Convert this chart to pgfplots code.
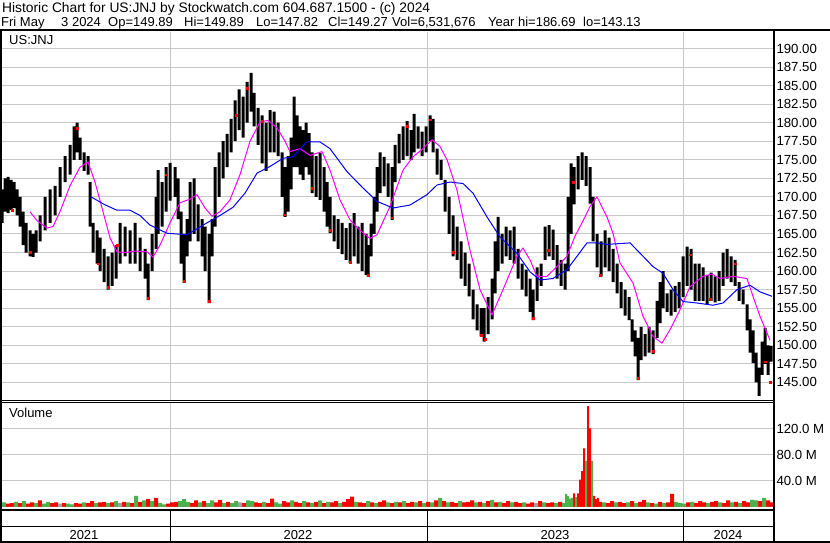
\documentclass[border=0pt]{standalone}
\usepackage{fontspec}
\setmainfont{Liberation Sans}
\usepackage{pgfplots}
\pgfplotsset{compat=1.18}
\usepackage{pgfplotstable}

\definecolor{gridgray}{RGB}{200,200,200}
\definecolor{volred}{RGB}{255,0,0}
\definecolor{volgreen}{RGB}{76,176,76}
\definecolor{volgray}{RGB}{160,160,160}
\definecolor{maline}{RGB}{255,0,255}
\definecolor{longma}{RGB}{0,0,255}

% daily range (x in pixels along the time axis)
\pgfplotstableread{
x lo hi
2 166.5 171
5 168 172.5
8 167.8 172.7
11 168.2 172.3
14 168.5 172
17 167.5 171
20 166 170
23 163.5 168
26 162.5 166.5
30 162 165.5
33 161.9 165
36 162.5 165.5
40 164 167.5
45 165.5 170
50 166.5 171
55 167.5 171.5
60 170 174
65 172 175.5
70 173 177
74 175 179.5
77 176 180
80 175 178
84 173.5 176
88 173 175.5
90 166 172
93 162.5 166.5
97 161 165.5
100 160 164.5
104 158.5 163
108 157.5 162
112 158 162.5
116 159 163.5
120 161 166.5
125 162 166
130 161 165.5
135 161 166.5
140 160 164.5
145 159 163
148 156.1 161
152 160 165
156 163 170
158 165 173.6
162 166 172
166 168 174
170 169.5 174.6
175 170 174
178 167 172.5
181 161 168
184 158.4 165
187 162 167
190 164 172
194 165 172.5
198 164 169
202 162 167
205 160 166
209 155.7 165
212 162 167
215 166 174
219 170 176
223 172.5 177.5
227 174 178.5
231 176 180.5
235 177.5 183
239 179 184.5
243 178 183.5
247 180 185.5
251 181.5 186.7
254 179.5 184
258 177 182
262 174.5 181
266 173.5 180
270 176 181.7
274 176 181.5
278 175.5 180
282 170 176
285 167.3 174
288 168 175.5
291 171 178
294 174 183.5
297 174 181
300 173 179.5
303 172.3 179
306 174 180
309 173 178.6
312 170.5 176
316 170 175.5
320 169.6 175.9
324 168 174
327 166 172
330 165.1 170
334 164 167.5
338 163 167
342 162.3 166.5
346 161.5 165.8
350 161.1 166.5
354 162 167.8
358 161 166
362 160 166.5
366 159.5 165
368 159.3 163.5
371 162 166.4
374 165 170
377 168 174
380 170.5 176
384 171.4 175.4
388 170 174.5
392 166.9 174
395 172 177
399 174.5 178.5
403 175 179.5
407 175.5 180.2
411 175 179
414 176 181.2
418 176.5 179.5
422 175.5 178.8
426 176 179.5
430 177.5 181
433 176 180.5
437 173 176.5
441 172.3 175
445 168 172.3
449 165 170
453 162 167.5
457 161.5 166
461 159 164
465 158 162.5
469 156.6 161
473 153.5 157.5
477 152 155.5
481 151.2 155
484 150.5 155
488 151.5 156.5
492 153.5 159
495 157 164
498 160 167.3
502 161 165
506 162 166
510 161.5 165.5
514 161 166
518 159 163
522 157.5 161
526 156.6 160.2
530 154.5 159
533 153.4 157.5
537 156 160.5
541 158 161
545 161.5 166
549 162 166.2
553 161.5 165.6
557 159 163.5
561 158 161.5
565 157.5 161
568 160 170
571 165 174.5
574 169 174
578 171 175.5
582 172.3 176
586 171.5 175.5
590 169.1 174
593 164 170
597 160.5 165
601 159.3 164
605 160.5 165.5
609 160 164.5
613 158.5 163
617 157 161
621 155 158.5
625 154 157.5
629 153.4 156.5
632 150.5 153.5
635 148.5 152
638 145.3 151
641 148 152.5
645 148.5 151.5
649 149 152.5
653 148.8 152
657 151 156
660 153 158.5
663 155 160
667 154.5 157
671 154 157.5
675 154.5 158
679 155 158.5
683 156.5 162
687 158 163.3
691 157.5 163
695 156 161
699 156 161
703 156 160.5
707 155.5 159.5
711 156 159.8
715 155.8 159.3
719 156 160
723 158 162.5
727 159 163
731 158.5 162
735 158 161.5
739 156 158.5
743 155.5 157.5
747 152 155.5
750 149 153.5
753 147.6 152
756 145 149
759 143.2 147
762 146 150.5
765 147.5 152.3
768 146 150
771 147.8 149.9
}\prices

% volume in millions, g: 0 down (red), 1 up (green), 2 unchanged (grey)
\pgfplotstableread{
x v g
4 7 1
8 5 0
12 6 0
16 8 1
20 6 0
24 9 1
28 5 0
32 7 0
36 6 1
40 10 0
44 5 1
48 8 1
52 6 0
56 7 0
60 5 2
64 6 0
68 5 1
72 4 1
76 6 0
80 5 0
84 7 1
88 6 0
92 9 0
96 6 1
100 7 0
104 8 0
108 6 1
112 7 0
116 9 1
120 6 2
124 8 0
128 7 1
132 6 0
136 17 1
140 8 0
144 10 1
148 12 0
152 9 1
156 14 0
160 6 1
164 4 1
168 5 0
172 7 0
176 8 0
180 9 1
184 12 1
188 8 1
192 6 0
196 10 0
200 7 1
204 9 0
208 6 1
212 10 1
216 7 0
220 11 0
224 6 1
228 8 0
232 6 1
236 9 1
240 7 2
244 6 0
248 10 1
252 9 1
256 7 0
260 6 0
264 8 1
268 6 0
272 13 0
276 7 1
280 5 1
284 9 0
288 7 0
292 10 1
296 8 0
300 6 0
304 9 1
308 7 0
312 6 1
316 8 0
320 10 1
324 6 0
328 8 1
332 7 0
336 9 0
340 6 1
344 8 0
348 12 0
352 16 0
356 8 1
360 7 0
364 6 0
368 9 1
372 7 0
376 6 1
380 8 0
384 10 0
388 7 1
392 6 0
396 8 1
400 7 0
404 9 1
408 6 0
412 8 0
416 7 1
420 9 0
424 6 1
428 8 0
432 7 1
436 10 0
440 14 1
444 9 0
448 7 1
452 8 0
456 6 0
460 9 1
464 7 0
468 8 0
472 10 0
476 7 1
480 8 0
484 6 1
488 9 0
492 11 1
496 7 0
500 8 1
504 6 0
508 9 0
512 7 1
516 8 0
520 6 0
524 7 1
528 5 0
532 7 0
536 6 2
540 9 0
544 7 1
548 6 0
552 7 0
556 6 1
560 8 0
564 6 1
600 8 0
604 7 1
608 6 0
612 9 0
616 7 1
620 8 0
624 6 0
628 7 1
632 9 0
636 6 1
640 8 0
644 11 0
648 7 1
652 6 0
656 5 1
660 8 0
664 6 1
668 7 0
672 20 0
676 8 1
680 6 1
684 5 1
688 7 0
692 8 1
696 6 0
700 9 0
704 7 0
708 6 1
712 8 0
716 9 0
720 7 1
724 6 0
728 10 0
732 7 1
736 8 0
740 6 1
744 9 0
748 7 0
752 11 1
756 10 1
760 9 0
764 14 1
768 10 0
772 7 0
}\volume

% spring 2023 spike, day by day
\pgfplotstableread{
x v g
566 20 1
568 17 1
570 13 1
572 14 1
574 21 0
576 15 1
578 21 0
580 42 0
582 55 0
584 90 0
586 71 1
588 155 0
590 121 0
592 71 1
594 17 0
596 12 0
598 14 0
}\spike

\pgfplotsset{
  pricebox/.style={
    at={(2pt,143pt)}, anchor=south west,
    scale only axis, width=771pt, height=368pt,
    xmin=2, xmax=773, ymin=142.63, ymax=192.22},
}

\begin{document}
\begin{tikzpicture}
\useasboundingbox (0pt,0pt) rectangle (830pt,543pt);
\fill[white] (0pt,0pt) rectangle (830pt,543pt);

% price panel: grid and scale
\begin{axis}[
  pricebox,
  axis line style={draw=none},
  tick style={draw=none},
  xtick={170,427,683}, xticklabels={},
  ytick={145,147.5,...,190},
  grid=major,
  major grid style={gridgray, line width=1pt},
  yticklabel pos=right,
  yticklabel style={anchor=west, font=\fontsize{13.2}{15}\selectfont},
  yticklabel={\pgfmathprintnumber[fixed,fixed zerofill,precision=2]{\tick}},
  /pgf/number format/assume math mode=true,
]
\end{axis}

% price panel: daily high-low bars
\begin{axis}[pricebox, hide axis, ybar stacked, bar width=3pt]
\addplot[fill=none, draw=none] table[x=x, y=lo] {\prices};
\addplot[fill=black, draw=none] table[x=x, y expr=\thisrow{hi}-\thisrow{lo}] {\prices};
\end{axis}

% price panel: closes and moving averages
\begin{axis}[pricebox, hide axis]
\addplot[only marks, mark=square*, mark size=0.9pt, color=red] coordinates {
  (12,168.2) (30,162.5) (77,179.3) (98,161) (108,157.8) (117,163.5)
  (148,156.3) (166,173) (184,158.6) (209,155.9) (236,181) (247,184.6)
  (262,180.2) (284,167.6) (312,171.2) (330,165.5) (350,161.2) (368,159.5)
  (392,167.2) (407,179.5) (430,180.4) (453,162.5) (481,151.4) (485,150.8)
  (533,153.6) (548,162.8) (573,172) (600,159.5) (638,145.6) (653,149.2)
  (690,162.2) (710,156.2) (735,161) (765,147.8) (770,145)
};
\addplot[maline, line width=1pt, mark=none] coordinates {
  (30,168) (37,166.8) (47,165.8) (53,166) (60,168) (70,171.5) (80,174)
  (88,174.7) (95,172) (103,168) (110,164.5) (117,162.6) (125,162.5)
  (135,162.7) (147,162.6) (153,161.9) (160,163.5) (170,166.5) (180,169.2)
  (190,169.7) (197,170.3) (205,168.5) (212,167.4) (220,168) (230,169.6)
  (240,173) (250,177.5) (260,180.1) (268,180.3) (277,179.3) (285,177.5)
  (290,176.1) (300,176.5) (310,175.6) (322,176.1) (330,173.6) (340,169.6)
  (350,166.9) (360,165.5) (370,164.4) (377,164.9) (390,168.7) (403,173.6)
  (413,175.4) (423,176.5) (432,177.7) (440,176.8) (447,175) (457,170.9)
  (470,162.8) (480,157.5) (492,154.1) (503,157.5) (517,162) (523,163.1)
  (530,161.5) (537,159.3) (547,159.3) (557,160.6) (567,162) (575,164.7)
  (585,167.3) (590,168.7) (597,170) (607,167.3) (613,165.1) (620,161.1)
  (633,158.4) (643,153.9) (653,151.2) (662,150.3) (670,152.1) (680,154.8)
  (690,157.9) (703,159.3) (712,159.6) (720,159) (733,159.3) (747,159)
  (753,156.6) (760,153.9) (770,150.7)
};
\addplot[longma, line width=1pt, mark=none] coordinates {
  (91,170) (104,169) (117,168.2) (130,168.2) (140,167.5) (150,166.2)
  (167,165.1) (187,164.9) (207,166.5) (220,167.5) (233,168.6) (245,170.5)
  (257,173.2) (270,174.1) (283,175.2) (293,175.4) (307,177.4) (320,177.4)
  (330,176.5) (347,173.4) (363,171.2) (377,169.4) (393,168.5) (410,168.9)
  (427,170.3) (437,171.6) (450,172) (463,171.8) (473,170.5) (487,167.3)
  (500,164.6) (517,162.4) (530,159.9) (540,158.8) (553,159) (567,160.2)
  (587,163.8) (597,163.8) (607,163.6) (630,163.8) (643,162) (653,160.6)
  (663,159.7) (673,157.5) (683,155.9) (697,155.7) (713,155.4) (723,155.7)
  (737,157.5) (750,158.1) (760,157.2) (772,156.6)
};
\end{axis}

% volume panel
\begin{axis}[
  at={(2pt,36pt)}, anchor=south west,
  scale only axis, width=771pt, height=104pt,
  xmin=2, xmax=773, ymin=0, ymax=160,
  axis line style={draw=none},
  tick style={draw=none},
  xtick={170,427,683}, xticklabels={},
  ytick={40,80,120},
  grid=major,
  major grid style={gridgray, line width=1pt},
  yticklabel pos=right,
  yticklabel style={anchor=west, font=\fontsize{13.2}{15}\selectfont},
  yticklabel={\pgfmathprintnumber[fixed,fixed zerofill,precision=1]{\tick} M},
  /pgf/number format/assume math mode=true,
]
\addplot[ybar, bar width=4pt, fill=volred, draw=none]
  table[x=x, y expr={\thisrow{g}==0 ? \thisrow{v} : 0}] {\volume};
\addplot[ybar, bar width=4pt, fill=volgreen, draw=none]
  table[x=x, y expr={\thisrow{g}==1 ? \thisrow{v} : 0}] {\volume};
\addplot[ybar, bar width=4pt, fill=volgray, draw=none]
  table[x=x, y expr={\thisrow{g}==2 ? \thisrow{v} : 0}] {\volume};
\addplot[ybar, bar width=2pt, fill=volred, draw=none]
  table[x=x, y expr={\thisrow{g}==0 ? \thisrow{v} : 0}] {\spike};
\addplot[ybar, bar width=2pt, fill=volgreen, draw=none]
  table[x=x, y expr={\thisrow{g}==1 ? \thisrow{v} : 0}] {\spike};
\end{axis}

% frame
\fill[black] (0pt,512pt) rectangle (830pt,513.8pt);
\fill[black] (0pt,0pt) rectangle (1.7pt,513pt);
\fill[black] (773.3pt,0pt) rectangle (775.2pt,513pt);
\fill[black] (0pt,142pt) rectangle (774pt,143.3pt);
\fill[black] (0pt,139.7pt) rectangle (774pt,141pt);
\fill[black] (0pt,32.3pt) rectangle (774pt,34pt);
\fill[black] (0pt,15.7pt) rectangle (774pt,17.3pt);
\fill[black] (0pt,0pt) rectangle (830pt,1.8pt);
\foreach \xx in {169.7,426.7,683} {
  \fill[black] (\xx pt,0pt) rectangle ++(1.4pt,33pt);
}

% texts
\node[inner sep=0pt, anchor=base west, font=\fontsize{13.8}{16}\selectfont]
  at (2pt,530pt) {Historic Chart for US:JNJ by Stockwatch.com 604.687.1500 - (c) 2024};
\begin{scope}[every node/.style={inner sep=0pt, anchor=base west, font=\fontsize{13}{15}\selectfont}]
\node at (1pt,516pt) {Fri May};
\node at (61pt,516pt) {3 2024};
\node at (108pt,516pt) {Op=149.89};
\node at (184pt,516pt) {Hi=149.89};
\node at (256pt,516pt) {Lo=147.82};
\node at (328pt,516pt) {Cl=149.27};
\node at (392pt,516pt) {Vol=6,531,676};
\node at (488pt,516pt) {Year hi=186.69};
\node at (583pt,516pt) {lo=143.13};
\node at (9pt,498pt) {US:JNJ};
\node at (9pt,125.3pt) {Volume};
\end{scope}
\begin{scope}[every node/.style={inner sep=0pt, anchor=base, font=\fontsize{13}{15}\selectfont}]
\node at (84pt,3.7pt) {2021};
\node at (298pt,3.7pt) {2022};
\node at (555pt,3.7pt) {2023};
\node at (728pt,3.7pt) {2024};
\end{scope}
\end{tikzpicture}
\end{document}
